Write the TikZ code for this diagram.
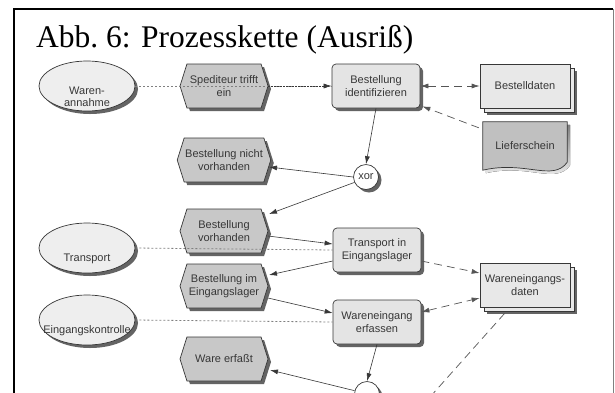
\documentclass[tikz,border=0pt]{standalone}
\usepackage{fontspec}
\setmainfont{Liberation Serif}
\newfontfamily\arialf{Liberation Sans}
\usetikzlibrary{shapes.geometric,shapes.symbols,shadows,arrows.meta,calc,backgrounds}
\definecolor{evfill}{RGB}{200,200,200}
\definecolor{fnfill}{RGB}{228,228,228}
\definecolor{orgfill}{RGB}{238,238,238}
\definecolor{dtfill}{RGB}{232,232,232}
\definecolor{docfill}{RGB}{192,192,192}
\definecolor{shade}{RGB}{100,100,100}
\definecolor{edge}{RGB}{55,55,55}
\definecolor{txt}{RGB}{55,55,55}
\tikzset{
 base/.style={draw=edge, line width=0.7pt, text=txt, font=\arialf\fontsize{11}{12.5}\selectfont, align=center, inner sep=1pt},
 shad/.style={general shadow={fill=shade, shadow xshift=3pt, shadow yshift=-3pt}},
 org/.style={base, shad, ellipse, fill=orgfill, minimum width=96pt, minimum height=50pt},
 lbl/.style={text=txt, font=\arialf\fontsize{11}{12.5}\selectfont, align=center, inner sep=0pt},
 evt/.style={base, shad, signal, signal to=west and east, signal pointer angle=145, fill=evfill, minimum width=88pt, minimum height=44pt},
 fun/.style={base, shad, rectangle, rounded corners=4pt, fill=fnfill, minimum width=88pt, minimum height=44pt},
 dat/.style={base, rectangle, fill=dtfill, minimum width=90pt, minimum height=44pt,
   general shadow={fill=shade, shadow xshift=7pt, shadow yshift=-7pt},
   copy shadow={shadow xshift=4pt, shadow yshift=-4pt}},
 docn/.style={lbl, rectangle, minimum width=84pt, minimum height=48pt},
 xorn/.style={base, shad, circle, fill=white, minimum size=25pt, inner sep=0pt},
 flow/.style={draw=edge, line width=0.6pt, -{Latex[length=8pt,width=5pt]}},
 orgl/.style={draw=gray, line width=0.8pt, dash pattern=on 2pt off 2pt},
 datl/.style={draw=edge!85, line width=0.7pt, dash pattern=on 8pt off 5pt},
 tip/.style={-{Latex[length=8pt,width=5pt]}},
 tips/.style={{Latex[length=8pt,width=5pt]}-{Latex[length=8pt,width=5pt]}},
}
\begin{document}
\begin{tikzpicture}[x=1pt,y=-1pt]
\useasboundingbox (0,0) rectangle (615,392);
\clip (0,0) rectangle (615,392);
% frame
\draw[line width=2pt] (14,395) -- (14,9) -- (613,9);
\draw[gray, line width=0.8pt] (613,9) -- (613,395);
% title
\node[anchor=base west, inner sep=0pt, font=\fontsize{31.5}{32}\selectfont] (title) at (36,47) {Abb.~6: Prozesskette (Ausriß)};
% org units
\node[org, label={[lbl, name=o1t, yshift=-11pt]center:{Waren-\\annahme}}] (o1) at (87,86) {};
\node[org, label={[lbl, name=o2t, yshift=-11pt]center:{Transport}}] (o2) at (87,248) {};
\node[org, label={[lbl, name=o3t, yshift=-11pt]center:{Eingangskontrolle}}] (o3) at (87,320) {};
% events
\node[evt] (e1) at (224,86) {Spediteur trifft\\ein};
\node[evt] (e2) at (224,160) {Bestellung nicht\\vorhanden};
\node[evt] (e3) at (224,231) {Bestellung\\vorhanden};
\node[evt] (e4) at (224,286) {Bestellung im\\Eingangslager};
\node[evt] (e5) at (224,359) {Ware erfaßt};
% functions
\node[fun] (f1) at (376,86) {Bestellung\\identifizieren};
\node[fun] (f2) at (377,250) {Transport in\\Eingangslager};
\node[fun] (f3) at (377,322) {Wareneingang\\erfassen};
% data
\node[dat] (d1) at (525,86) {Bestelldaten};
\node[dat] (d2) at (525,285) {Wareneingangs-\\daten};
\node[docn] (L) at (525,146) {Lieferschein};
\begin{scope}[on background layer]
\fill[white] (0,0) rectangle (615,392);
\fill[shade, transform canvas={xshift=3pt,yshift=-3pt}] (L.north west) -- (L.north east) -- ($(L.south east)+(0,-8)$) .. controls ($(L.south east)+(-14,12)$) and ($(L.south)+(0,-10)$) .. (L.south west) -- cycle;
\filldraw[fill=docfill, draw=edge, line width=0.7pt] (L.north west) -- (L.north east) -- ($(L.south east)+(0,-8)$) .. controls ($(L.south east)+(-14,12)$) and ($(L.south)+(0,-10)$) .. (L.south west) -- cycle;
\end{scope}
% xor
\node[xorn] (x1) at (366,177) {xor};
\node[xorn] (x2) at (367,394) {};
\coordinate (dout) at (430,397);
% org connections
\draw[orgl] (o1.east) -- (f1.west);
\draw[orgl] (o2.east) -- (f2.west);
\draw[orgl] (o3.east) -- (f3.west);
% control flow
\draw[flow, dash pattern=on 2pt off 1pt] (e1.east) -- (f1.west);
\draw[flow] (f1.south) -- (x1.north);
\draw[flow] (x1.west) -- ($(e2.center)+(45,7)$);
\draw[flow] (x1.205) -- ($(e3.center)+(45,-17)$);
\draw[flow] ($(e3.center)+(44,5)$) -- ($(f2.west)+(0,-6)$);
\draw[flow] ($(f2.west)+(0,11)$) -- ($(e4.center)+(45,-11)$);
\draw[flow] ($(e4.center)+(44,12)$) -- ($(f3.west)+(0,-9)$);
\draw[flow] (f3.south) -- (x2.north);
\draw[flow] (x2.165) -- ($(e5.center)+(46,11)$);
% data flow
\draw[datl, tips] (f1.east) -- (d1.west);
\draw[datl, tip] ($(L.north west)+(-4,6)$) -- ($(f1.south east)+(2,-2)$);
\draw[datl, tip] ($(f2.east)+(0,11)$) -- ($(d2.west)+(0,-12)$);
\draw[datl, tips] ($(f3.east)+(0,-10)$) -- ($(d2.west)+(0,13)$);
\draw[datl] ($(d2.south west)+(25,6)$) -- (dout);
\end{tikzpicture}
\end{document}
